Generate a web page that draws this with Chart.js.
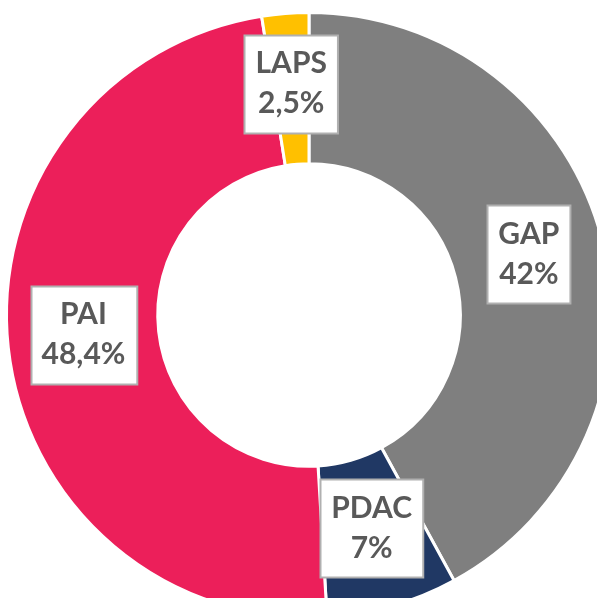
<!DOCTYPE html>
<html>
<head>
<meta charset="utf-8">
<script src="https://cdn.jsdelivr.net/npm/chart.js@4.4.1/dist/chart.umd.min.js"></script>
<style>
  html, body { margin: 0; padding: 0; background: #fff; overflow: hidden; }
  #wrap { position: absolute; left: 0; top: 0; width: 620px; height: 632px; }
</style>
</head>
<body>
<div id="wrap"><canvas id="donut"></canvas></div>
<script>
  var categorias = ['GAP', 'PDAC', 'PAI', 'LAPS'];
  var valores = [42, 7, 48.4, 2.5];
  var cores = ['#7f7f7f', '#203864', '#ec1f5a', '#ffc000'];

  function fmt(v) {
    return String(v).replace('.', ',') + '%';
  }

  // caixas brancas com nome e percentual no centro de cada fatia
  var rotulos = {
    id: 'rotulos',
    afterDatasetsDraw: function (chart) {
      var ctx = chart.ctx;
      var meta = chart.getDatasetMeta(0);
      ctx.save();
      ctx.font = 'bold 30px Lato';
      ctx.textAlign = 'center';
      ctx.textBaseline = 'middle';
      meta.data.forEach(function (arc, i) {
        var p = arc.getCenterPoint();
        var cy = p.y - 5;
        var l1 = categorias[i];
        var l2 = fmt(valores[i]);
        var w = Math.max(ctx.measureText(l1).width, ctx.measureText(l2).width) + 22;
        var h = 98;
        var x = Math.round(p.x - w / 2) + 0.5;
        var y = Math.round(cy - h / 2) + 0.5;
        ctx.fillStyle = '#ffffff';
        ctx.fillRect(x, y, w, h);
        ctx.strokeStyle = '#b0b0b0';
        ctx.lineWidth = 2;
        ctx.strokeRect(x, y, w, h);
        ctx.fillStyle = '#595959';
        ctx.fillText(l1, p.x, cy - 20);
        ctx.fillText(l2, p.x, cy + 20);
      });
      ctx.restore();
    }
  };

  var ctx = document.getElementById('donut');
  new Chart(ctx, {
    type: 'doughnut',
    data: {
      labels: categorias,
      datasets: [
        {
          data: valores,
          backgroundColor: cores,
          borderColor: '#ffffff',
          borderWidth: 3,
        },
      ]
    },
    options: {
      responsive: true,
      maintainAspectRatio: false,
      animation: false,
      cutout: '50%',
      layout: {
        padding: { left: 5, right: 7, top: 9, bottom: 11 }
      },
      plugins: {
        legend: { display: false },
        tooltip: { enabled: false },
      }
    },
    plugins: [rotulos]
  });
</script>
</body>
</html>
